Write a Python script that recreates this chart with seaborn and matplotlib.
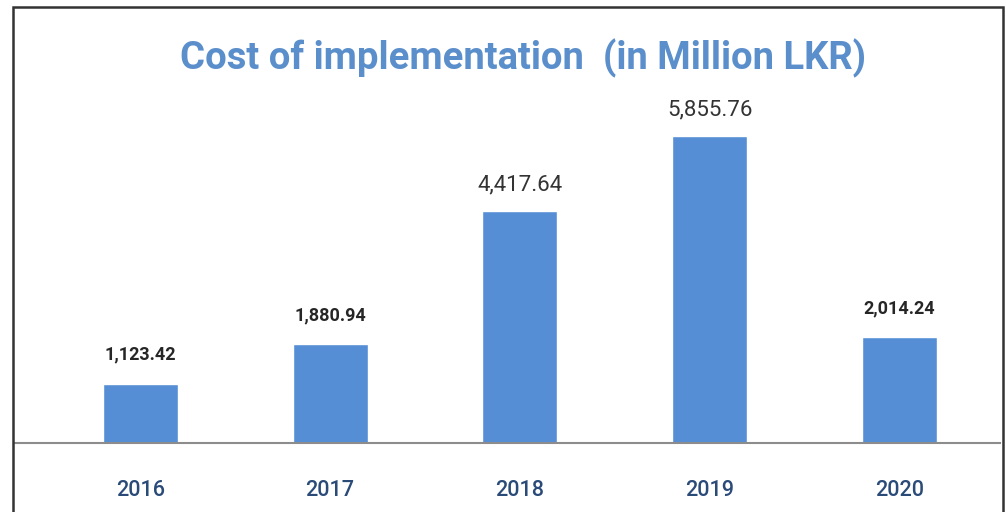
import matplotlib
matplotlib.use("Agg")
import matplotlib.pyplot as plt
import seaborn as sns
import pandas as pd
from matplotlib.patches import Rectangle

years = ["2016", "2017", "2018", "2019", "2020"]
costs = [1123.42, 1880.94, 4417.64, 5855.76, 2014.24]
labels = ["1,123.42", "1,880.94", "4,417.64", "5,855.76", "2,014.24"]
bold_label = [True, True, False, False, True]

df = pd.DataFrame({"Year": years, "Cost": costs})

sns.set_style("white")
plt.rcParams["font.family"] = ["Roboto", "DejaVu Sans"]

fig = plt.figure(figsize=(10.06, 5.12), dpi=100)
ax = fig.add_axes([15 / 1006, 69 / 512, 985 / 1006, 343 / 512])

sns.barplot(data=df, x="Year", y="Cost", color="#558ED5", width=0.395,
            saturation=1, ax=ax)

ax.set_xlim(-0.66, 4.53)
ax.set_ylim(0, 343 * 19.07)
for s in ["top", "right", "left"]:
    ax.spines[s].set_visible(False)
ax.spines["bottom"].set_color("#8c8c8c")
ax.spines["bottom"].set_linewidth(1.5)
ax.set_yticks([])
ax.set_xlabel("")
ax.set_ylabel("")
ax.tick_params(axis="x", length=0, pad=27, labelsize=15.5, labelcolor="#2a4a78")
for t in ax.get_xticklabels():
    t.set_fontweight("medium")

for i, (v, lab, b) in enumerate(zip(costs, labels, bold_label)):
    if b:
        ax.annotate(lab, (i, v), xytext=(0, 21), textcoords="offset points",
                    ha="center", va="center", fontsize=13, fontweight="bold",
                    color="#262626")
    else:
        ax.annotate(lab, (i, v), xytext=(0, 19), textcoords="offset points",
                    ha="center", va="center", fontsize=16, color="#333333")

fig.text(523 / 1006, 1 - 58 / 512, "Cost of implementation  (in Million LKR)",
         ha="center", va="center", fontsize=27.5, fontweight="bold",
         color="#5B8FCC")

fig.patches.append(Rectangle((13 / 1006, -0.05), 990 / 1006, 1 - 7 / 512 + 0.05,
                             transform=fig.transFigure, fill=False,
                             edgecolor="#333333", linewidth=1.8))

fig.savefig("out.png", dpi=100)
